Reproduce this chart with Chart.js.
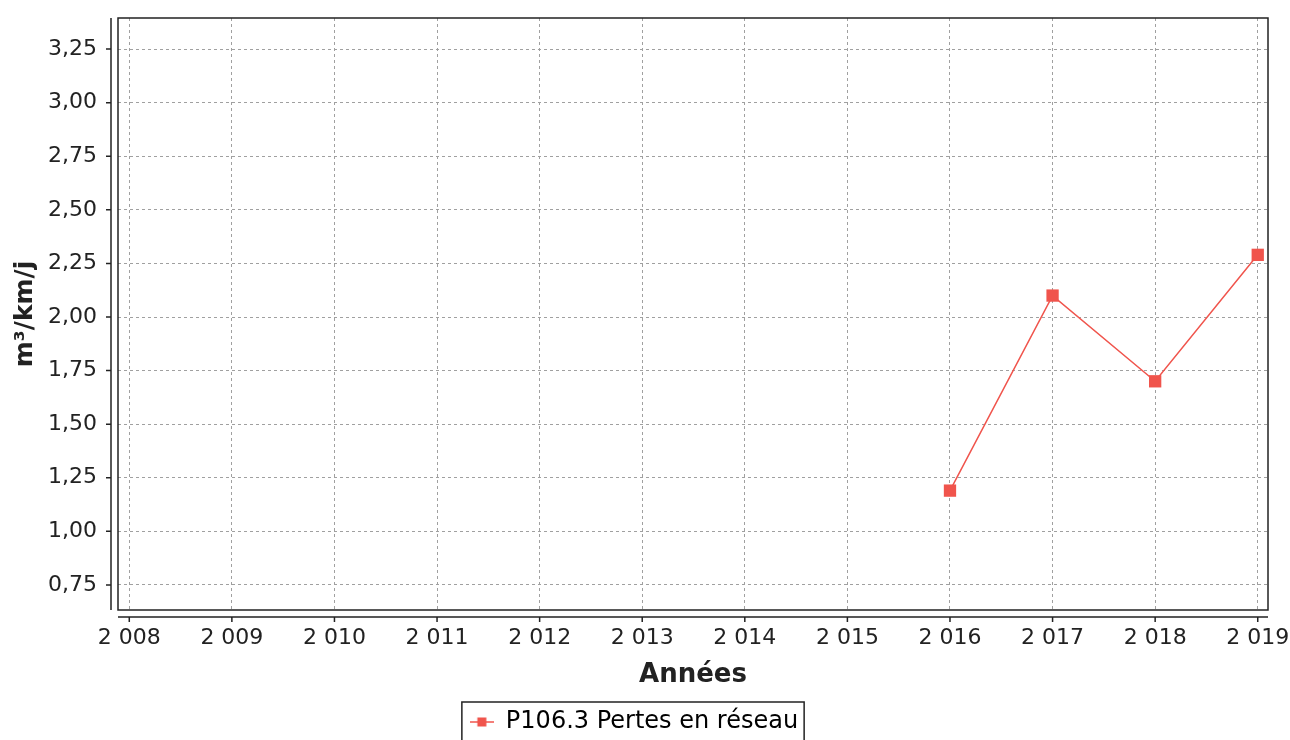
<!DOCTYPE html>
<html>
<head>
<meta charset="utf-8">
<script src="https://cdn.jsdelivr.net/npm/chart.js@4/dist/chart.umd.min.js"></script>
<style>
  html, body { margin: 0; padding: 0; background: #fff; }
  #wrap { width: 1290px; height: 740px; }
</style>
</head>
<body>
<div id="wrap"><canvas id="pertesChart" width="1290" height="740"></canvas></div>
<script>
// Data
const years = [2016, 2017, 2018, 2019];
const pertes = [1.19, 2.10, 1.70, 2.29];
const xTicks = [2008, 2009, 2010, 2011, 2012, 2013, 2014, 2015, 2016, 2017, 2018, 2019];
const xTickLabels = ['2 008', '2 009', '2 010', '2 011', '2 012', '2 013', '2 014', '2 015', '2 016', '2 017', '2 018', '2 019'];
const yTicks = [0.75, 1.00, 1.25, 1.50, 1.75, 2.00, 2.25, 2.50, 2.75, 3.00, 3.25];
const yTickLabels = ['0,75', '1,00', '1,25', '1,50', '1,75', '2,00', '2,25', '2,50', '2,75', '3,00', '3,25'];
const seriesLabel = 'P106.3 Pertes en réseau';

const red = 'rgb(240, 84, 76)';
const font = 'DejaVu Sans';

// legend marker: short line with a square
const marker = document.createElement('canvas');
marker.width = 24; marker.height = 12;
(function() {
    const c = marker.getContext('2d');
    c.strokeStyle = red;
    c.lineWidth = 1.5;
    c.beginPath(); c.moveTo(0, 6); c.lineTo(24, 6); c.stroke();
    c.fillStyle = red;
    c.fillRect(7.5, 1.5, 9, 9);
})();

// frame, offset axis lines, ticks, legend box
const framePlugin = {
    id: 'framePlugin',
    afterDraw(chart) {
        const ctx = chart.ctx;
        const a = chart.chartArea;
        const xs = chart.scales.x, ys = chart.scales.y;
        ctx.save();
        ctx.strokeStyle = '#222';
        ctx.lineWidth = 1.5;
        ctx.strokeRect(a.left, a.top, a.right - a.left, a.bottom - a.top);

        // y axis line
        const yx = a.left - 7;
        ctx.beginPath();
        ctx.moveTo(yx, a.top); ctx.lineTo(yx, a.bottom);
        ys.ticks.forEach(t => {
            const py = ys.getPixelForValue(t.value);
            ctx.moveTo(yx, py); ctx.lineTo(yx - 5, py);
        });
        // x axis line
        const xy = a.bottom + 7;
        ctx.moveTo(a.left, xy); ctx.lineTo(a.right, xy);
        xs.ticks.forEach(t => {
            const px = xs.getPixelForValue(t.value);
            ctx.moveTo(px, xy); ctx.lineTo(px, xy + 5);
        });
        ctx.stroke();

        // legend box
        const hb = chart.legend.legendHitBoxes[0];
        if (hb) {
            ctx.lineWidth = 1.5;
            ctx.strokeRect(hb.left - 8, hb.top - 8, hb.width + 14, hb.height + 40);
        }
        ctx.restore();
    }
};

const ctx = document.getElementById('pertesChart');
new Chart(ctx, {
    type: 'line',
    data: {
        datasets: [{
            label: seriesLabel,
            data: years.map((y, i) => ({ x: y, y: pertes[i] })),
            borderColor: red,
            backgroundColor: red,
            borderWidth: 1.5,
            pointStyle: 'rect',
            pointRadius: 8.7,
            pointBorderWidth: 0,
            pointBackgroundColor: red,
            fill: false,
            tension: 0
        }]
    },
    options: {
        responsive: false,
        animation: false,
        devicePixelRatio: 1,
        layout: {
            padding: { left: 0, top: 18, right: 22, bottom: -4 }
        },
        plugins: {
            legend: {
                position: 'bottom',
                labels: {
                    usePointStyle: true,
                    pointStyleWidth: 24,
                    padding: 6,
                    color: '#222',
                    font: { family: font, size: 24 },
                    generateLabels: function(chart) {
                        return [{
                            text: seriesLabel,
                            pointStyle: marker,
                            fillStyle: red,
                            strokeStyle: red,
                            lineWidth: 0,
                            datasetIndex: 0
                        }];
                    }
                }
            },
            tooltip: { enabled: false }
        },
        scales: {
            x: {
                type: 'linear',
                min: 2007.89,
                max: 2019.1,
                afterBuildTicks: function(axis) {
                    axis.ticks = xTicks.map(v => ({ value: v }));
                },
                afterFit: function(axis) {
                    axis.height = 94;
                    axis.paddingLeft = 0;
                    axis.paddingRight = 0;
                },
                grid: {
                    color: '#a0a0a0',
                    lineWidth: 1,
                    drawTicks: false
                },
                border: { display: false, dash: [3, 3] },
                ticks: {
                    autoSkip: false,
                    maxRotation: 0,
                    padding: 15,
                    color: '#222',
                    font: { family: font, size: 22 },
                    callback: function(value) {
                        const i = xTicks.indexOf(value);
                        return i >= 0 ? xTickLabels[i] : '';
                    }
                },
                title: {
                    display: true,
                    text: 'Années',
                    color: '#222',
                    font: { family: font, size: 26, weight: 'bold' },
                    padding: { top: 0, bottom: 13 }
                }
            },
            y: {
                min: 0.633,
                max: 3.395,
                afterBuildTicks: function(axis) {
                    axis.ticks = yTicks.map(v => ({ value: v }));
                },
                afterFit: function(axis) {
                    axis.width = 118;
                    axis.paddingTop = 0;
                    axis.paddingBottom = 0;
                },
                grid: {
                    color: '#a0a0a0',
                    lineWidth: 1,
                    drawTicks: false
                },
                border: { display: false, dash: [3, 3] },
                ticks: {
                    padding: 21,
                    color: '#222',
                    font: { family: font, size: 22 },
                    callback: function(value) {
                        const i = yTicks.indexOf(value);
                        return i >= 0 ? yTickLabels[i] : '';
                    }
                },
                title: {
                    display: true,
                    text: 'm³/km/j',
                    color: '#222',
                    font: { family: font, size: 25, weight: 'bold' },
                    padding: { top: 10, bottom: 0 }
                }
            }
        }
    },
    plugins: [framePlugin]
});
</script>
</body>
</html>
